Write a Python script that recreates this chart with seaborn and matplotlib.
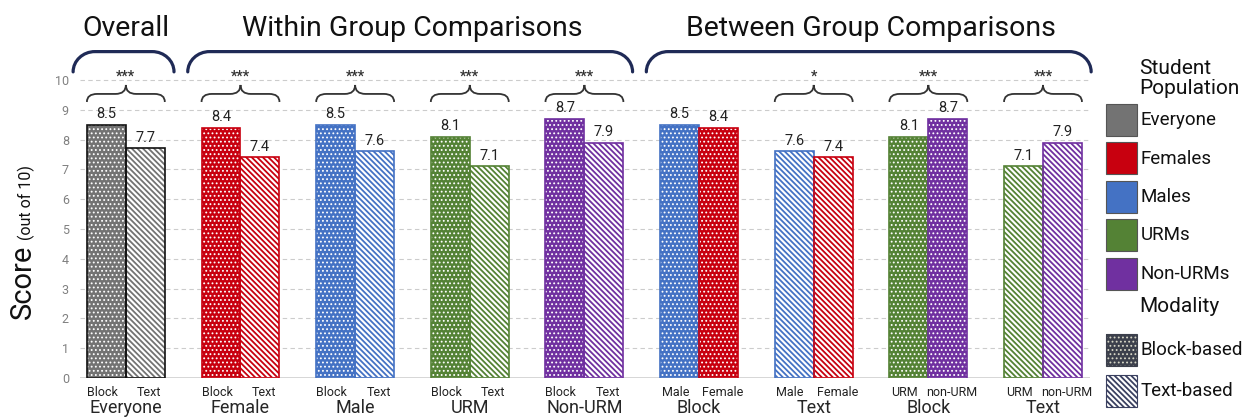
import matplotlib
matplotlib.use("Agg")
import matplotlib.pyplot as plt
from matplotlib.patches import Rectangle, PathPatch
from matplotlib.path import Path
import pandas as pd
import seaborn as sns

# --- data ---
group_keys = ["Everyone", "Female", "Male", "URM", "Non-URM",
              "Block-gender", "Text-gender", "Block-urm", "Text-urm"]
group_labels = ["Everyone", "Female", "Male", "URM", "Non-URM",
                "Block", "Text", "Block", "Text"]
left_labels = ["Block", "Block", "Block", "Block", "Block", "Male", "Male", "URM", "URM"]
right_labels = ["Text", "Text", "Text", "Text", "Text", "Female", "Female", "non-URM", "non-URM"]
left_scores = [8.5, 8.4, 8.5, 8.1, 8.7, 8.5, 7.6, 8.1, 7.1]
right_scores = [7.7, 7.4, 7.6, 7.1, 7.9, 8.4, 7.4, 8.7, 7.9]
left_pop = ["Everyone", "Females", "Males", "URMs", "Non-URMs", "Males", "Males", "URMs", "URMs"]
right_pop = ["Everyone", "Females", "Males", "URMs", "Non-URMs", "Females", "Females", "Non-URMs", "Non-URMs"]
left_mode = ["Block", "Block", "Block", "Block", "Block", "Block", "Text", "Block", "Text"]
right_mode = ["Text", "Text", "Text", "Text", "Text", "Block", "Text", "Block", "Text"]
significance = ["***", "***", "***", "***", "***", "", "*", "***", "***"]
sections = ["Overall", "Within Group Comparisons", "Between Group Comparisons"]
section_groups = [(0, 0), (1, 4), (5, 8)]
populations = ["Everyone", "Females", "Males", "URMs", "Non-URMs"]
modalities = ["Block-based", "Text-based"]

pop_colors = {"Everyone": "#737373", "Females": "#c8000f", "Males": "#4472c4",
              "URMs": "#548235", "Non-URMs": "#7030a0"}
navy = "#1f2a56"
DOTS = "...."
STRIPES = chr(92) * 6   # dense backslash hatch

df = pd.DataFrame({
    "group": group_keys * 2,
    "score": left_scores + right_scores,
    "side": ["left"] * len(group_keys) + ["right"] * len(group_keys),
})

sns.set_theme(style="white")
plt.rcParams["font.family"] = ["Roboto", "DejaVu Sans"]
plt.rcParams["hatch.linewidth"] = 1.3

W, H = 1249, 419
fig = plt.figure(figsize=(W / 100, H / 100), dpi=100)
ax = fig.add_axes([80 / W, 41 / H, 1010 / W, 310 / H])

sns.barplot(data=df, x="group", y="score", hue="side", order=group_keys,
            hue_order=["left", "right"], width=0.68, errorbar=None,
            legend=False, ax=ax)
ax.set_xlim(-0.4, 8.41)
ax.set_ylim(0, 10.4)


def set_hatch_lw(p, lw):
    if hasattr(p, "set_hatch_linewidth"):
        p.set_hatch_linewidth(lw)


# restyle bars: block = colour with white dots, text = colour stripes on white
bars = sorted(ax.patches, key=lambda p: p.get_x())
for i, p in enumerate(bars):
    g, side = divmod(i, 2)
    pop = (left_pop if side == 0 else right_pop)[g]
    mode = (left_mode if side == 0 else right_mode)[g]
    label = (left_labels if side == 0 else right_labels)[g]
    value = (left_scores if side == 0 else right_scores)[g]
    col = pop_colors[pop]
    p.set_linewidth(0)
    if mode == "Block":
        p.set_facecolor(col)
        p.set_edgecolor("white")
        p.set_hatch(DOTS)
        set_hatch_lw(p, 0.8)
    else:
        p.set_facecolor("white")
        p.set_edgecolor(col)
        p.set_hatch(STRIPES)
    outline = "#111111" if pop == "Everyone" else col
    ax.add_patch(Rectangle(p.get_xy(), p.get_width(), p.get_height(), fill=False,
                           edgecolor=outline, lw=1.2, zorder=3))
    cx = p.get_x() + p.get_width() / 2
    ax.text(cx, value + 0.12, f"{value:.1f}", ha="center", va="bottom",
            fontsize=10.5, color="#222222")
    ax.text(cx + (side - 0.5) * 0.07, -0.47, label, ha="center", va="center",
            fontsize=9, color="#222222", clip_on=False)

# axes cosmetics
for s in ax.spines.values():
    s.set_visible(False)
ax.set_yticks(range(11))
ax.yaxis.grid(True, ls=(0, (4, 3)), color="#cccccc", lw=0.8)
ax.set_axisbelow(True)
ax.axhline(0, color="#d0d0d0", lw=1.2, zorder=1)
ax.tick_params(axis="y", length=0, labelsize=9, labelcolor="#808080", pad=8)
ax.set_xticks(range(len(group_labels)))
ax.set_xticklabels(group_labels)
ax.tick_params(axis="x", length=0, labelsize=13, pad=15)
ax.set_xlabel("")
ax.set_ylabel("")


def curly_brace(x0, x1, y0, ym, yt, q=0.09):
    xm = (x0 + x1) / 2
    verts = [(x0, y0), (x0, ym), (x0 + q, ym),
             (xm - q, ym), (xm, ym), (xm, yt),
             (xm, ym), (xm + q, ym),
             (x1 - q, ym), (x1, ym), (x1, y0)]
    codes = [Path.MOVETO, Path.CURVE3, Path.CURVE3,
             Path.LINETO, Path.CURVE3, Path.CURVE3,
             Path.CURVE3, Path.CURVE3,
             Path.LINETO, Path.CURVE3, Path.CURVE3]
    ax.add_patch(PathPatch(Path(verts, codes), fill=False, edgecolor="#333333",
                           lw=1.3, clip_on=False, zorder=4))


def section_bracket(x0, x1, yb, yt, r=0.19):
    k = 0.55
    verts = [(x0, yb), (x0, yb + k * (yt - yb)), (x0 + r * (1 - k), yt), (x0 + r, yt),
             (x1 - r, yt),
             (x1 - r * (1 - k), yt), (x1, yb + k * (yt - yb)), (x1, yb)]
    codes = [Path.MOVETO, Path.CURVE4, Path.CURVE4, Path.CURVE4,
             Path.LINETO,
             Path.CURVE4, Path.CURVE4, Path.CURVE4]
    ax.add_patch(PathPatch(Path(verts, codes), fill=False, edgecolor=navy,
                           lw=2.3, clip_on=False, capstyle="round"))


# significance braces
for g, sig in enumerate(significance):
    if not sig:
        continue
    x0 = bars[2 * g].get_x()
    x1 = bars[2 * g + 1].get_x() + bars[2 * g + 1].get_width()
    curly_brace(x0, x1, 9.26, 9.53, 9.83)
    ax.text((x0 + x1) / 2, 10.12, sig, ha="center", va="center", fontsize=10,
            fontweight="bold", color="#333333", clip_on=False)

# section headers with navy brackets
for name, (g0, g1) in zip(sections, section_groups):
    section_bracket(g0 - 0.46, g1 + 0.42, 10.27, 10.95)
    ax.text((g0 + g1) / 2, 11.72, name, ha="center", va="center", fontsize=20.5,
            color="#111111", clip_on=False)

# y label: "Score" with a smaller "(out of 10)"
fig.text(23 / W, 1 - 282 / H, "Score", rotation=90, ha="center", va="center",
         fontsize=21, color="#111111")
fig.text(26 / W, 1 - 203 / H, "(out of 10)", rotation=90, ha="center", va="center",
         fontsize=11.5, color="#111111")

# legend drawn by hand in figure pixels
def fig_rect(x, y, w, h, **kw):
    r = Rectangle((x / W, 1 - (y + h) / H), w / W, h / H,
                  transform=fig.transFigure, **kw)
    fig.add_artist(r)
    return r


fig.text(1139 / W, 1 - 68 / H, "Student", ha="left", va="center", fontsize=15, color="#111111")
fig.text(1139 / W, 1 - 88 / H, "Population", ha="left", va="center", fontsize=15, color="#111111")
for j, pop in enumerate(populations):
    yc = 120 + j * 38.5
    fig_rect(1106, yc - 16, 31, 32, facecolor=pop_colors[pop], edgecolor="#555555", lw=0.8)
    fig.text(1141 / W, 1 - yc / H, pop, ha="left", va="center", fontsize=13.5, color="#111111")

fig.text(1139 / W, 1 - 306 / H, "Modality", ha="left", va="center", fontsize=15, color="#111111")
mode_y = [350, 391]
dot_patch = fig_rect(1106, mode_y[0] - 16, 31, 32, facecolor="#3c404c", edgecolor="#d8d8c8",
                     hatch=DOTS, lw=0)
set_hatch_lw(dot_patch, 0.8)
fig_rect(1106, mode_y[0] - 16, 31, 32, fill=False, edgecolor="#3c404c", lw=0.8)
fig_rect(1106, mode_y[1] - 16, 31, 32, facecolor="white", edgecolor="#3a4060", hatch=STRIPES, lw=0)
fig_rect(1106, mode_y[1] - 16, 31, 32, fill=False, edgecolor="#3a4060", lw=0.8)
for yc, name in zip(mode_y, modalities):
    fig.text(1141 / W, 1 - yc / H, name, ha="left", va="center", fontsize=13.5, color="#111111")

fig.savefig("out.png", dpi=100)
